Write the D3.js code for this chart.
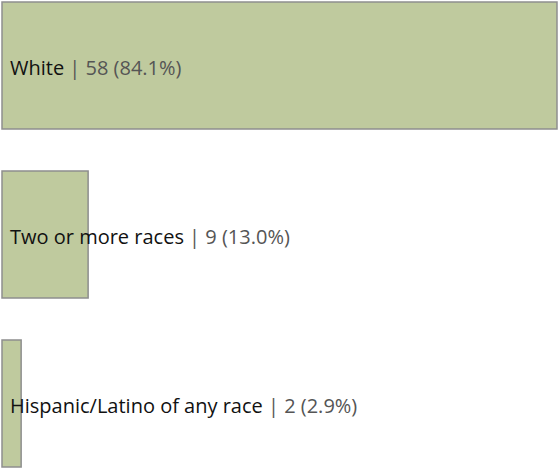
<!DOCTYPE html>
<html>
<head>
<meta charset="utf-8">
<script src="https://cdn.jsdelivr.net/npm/d3@7"></script>
<style>
  body { margin: 0; background: #fff; }
  text { font-family: "Open Sans", "Noto Sans", sans-serif; font-size: 20px; }
</style>
</head>
<body>
<script>
// chart data
var categories = ['White', 'Two or more races', 'Hispanic/Latino of any race']
var counts = [58, 9, 2]
var percents = ['84.1%', '13.0%', '2.9%']

var width = 558, height = 468

var svg = d3.select('body').append('svg')
    .attr('width', width).attr('height', height)

var x = d3.scaleLinear().domain([0, 58]).range([2, 557])
var y = d3.scaleBand().domain(categories).range([2, 467]).paddingInner(0.2485).paddingOuter(0)

var rows = svg.selectAll('.row')
    .data(categories)
    .enter()
    .append('g')
    .attr('class', 'row')

rows.append('rect')
    .attr('x', x(0))
    .attr('y', function(d){return y(d)})
    .attr('width', function(d,i){return x(counts[i]) - x(0)})
    .attr('height', y.bandwidth())
    .attr('fill', '#bfca9e')
    .attr('stroke', '#8e8e8e')
    .attr('stroke-width', 1.5)

var labels = rows.append('text')
    .attr('x', 10)
    .attr('y', function(d){return y(d) + y.bandwidth()/2})
    .attr('dy', '0.47em')

labels.append('tspan')
    .attr('fill', '#111')
    .text(function(d){return d})

labels.append('tspan')
    .attr('fill', '#555')
    .text(function(d,i){return ' | ' + counts[i] + ' (' + percents[i] + ')'})
</script>
</body>
</html>
